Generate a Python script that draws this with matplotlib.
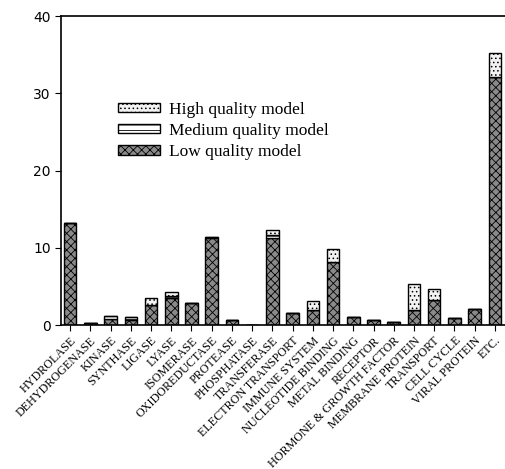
import numpy as np
import matplotlib.pyplot as plt

categories = ["HYDROLASE", "DEHYDROGENASE", "KINASE", "SYNTHASE", "LIGASE",
              "LYASE", "ISOMERASE", "OXIDOREDUCTASE", "PROTEASE", "PHOSPHATASE",
              "TRANSFERASE", "ELECTRON TRANSPORT", "IMMUNE SYSTEM",
              "NUCLEOTIDE BINDING", "METAL BINDING", "RECEPTOR",
              "HORMONE & GROWTH FACTOR", "MEMBRANE PROTEIN", "TRANSPORT",
              "CELL CYCLE", "VIRAL PROTEIN", "ETC."]
low = [13.2, 0.2, 0.8, 0.7, 2.6, 3.5, 2.8, 11.2, 0.65, 0.0,
       11.2, 1.5, 1.95, 8.2, 1.05, 0.6, 0.4, 2.0, 3.3, 0.9, 2.05, 32.1]
medium = [0.0, 0.0, 0.35, 0.3, 0.0, 0.3, 0.0, 0.2, 0.0, 0.0,
          0.4, 0.0, 0.0, 0.0, 0.0, 0.05, 0.05, 0.0, 0.0, 0.0, 0.0, 0.0]
high = [0.0, 0.0, 0.0, 0.0, 0.9, 0.5, 0.0, 0.0, 0.0, 0.0,
        0.7, 0.0, 1.1, 1.6, 0.0, 0.0, 0.0, 3.25, 1.35, 0.0, 0.0, 3.1]

plt.rcParams["hatch.linewidth"] = 0.6
fig = plt.figure(figsize=(5.05, 4.69), dpi=100)
ax = fig.add_axes([61 / 505, 1 - 325 / 469, 444 / 505, 309 / 469])

x = np.arange(len(categories))
low = np.array(low)
medium = np.array(medium)
high = np.array(high)
w = 0.62
b_low = ax.bar(x, low, w, color="#8a8a8a", edgecolor="black", linewidth=1,
               hatch="xxxx", label="Low quality model")
b_med = ax.bar(x, medium, w, bottom=low, color="white", edgecolor="black",
               linewidth=1, hatch="---", label="Medium quality model")
b_high = ax.bar(x, high, w, bottom=low + medium, color="#f2f2f2",
                edgecolor="black", linewidth=1, hatch="....",
                label="High quality model")

ax.set_xlim(-0.45, 21.5)
ax.set_ylim(0, 40)
ax.set_yticks([0, 10, 20, 30, 40])
ax.tick_params(axis="y", labelsize=10, length=4, direction="out")
ax.set_xticks(x)
ax.set_xticklabels(categories, rotation=45, ha="right", rotation_mode="anchor",
                   family="Liberation Serif", fontsize=8.7)
ax.tick_params(axis="x", length=4, direction="out", pad=3)
ax.spines["right"].set_visible(False)
for s in ["left", "top", "bottom"]:
    ax.spines[s].set_linewidth(1.2)

ax.legend(handles=[b_high, b_med, b_low], loc="upper left",
          bbox_to_anchor=(0.113, 0.745), frameon=False, borderaxespad=0,
          prop={"family": "Liberation Serif", "size": 12.5},
          handlelength=2.4, handleheight=0.45, labelspacing=0.3,
          handletextpad=0.55)

fig.savefig("out.png", dpi=100)
